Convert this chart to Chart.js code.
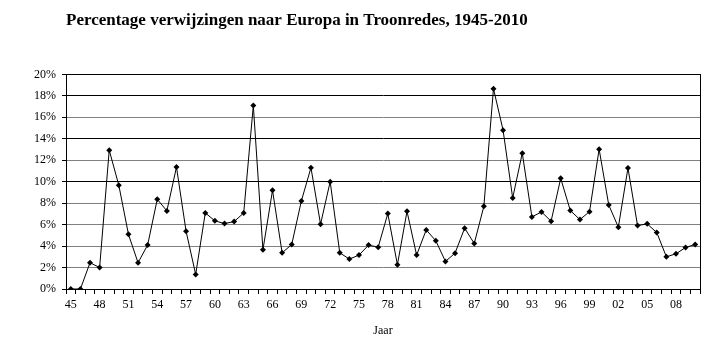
<!DOCTYPE html>
<html>
<head>
<meta charset="utf-8">
<script src="https://cdn.jsdelivr.net/npm/chart.js@4"></script>
<style>
  html, body { margin: 0; padding: 0; background: #fff; }
  #wrap { width: 709px; height: 354px; position: relative; }
</style>
</head>
<body>
<div id="wrap"><canvas id="chart"></canvas></div>
<script>
// ==== DATA ====
const years = [];
for (let y = 1945; y <= 2010; y++) years.push(String(y).slice(2));

const percentages = [
    0, 0, 2.45, 2.0, 12.94, 9.66, 5.1, 2.45, 4.1, 8.36,
    7.28, 11.36, 5.39, 1.36, 7.09, 6.35, 6.1, 6.28, 7.09, 17.09,
    3.65, 9.2, 3.37, 4.15, 8.2, 11.3, 6.04, 10.0, 3.37, 2.79,
    3.16, 4.09, 3.9, 7.03, 2.26, 7.24, 3.16, 5.51, 4.49, 2.57,
    3.34, 5.67, 4.24, 7.71, 18.67, 14.8, 8.48, 12.66, 6.72, 7.18,
    6.32, 10.31, 7.31, 6.47, 7.21, 13.03, 7.83, 5.76, 11.27, 5.91,
    6.07, 5.26, 3.0, 3.28, 3.87, 4.15
];

const yTicks = [0, 2, 4, 6, 8, 10, 12, 14, 16, 18, 20];
const darkLines = [10, 14, 18, 20];

const serif = "'Liberation Serif', 'Times New Roman', serif";

// ==== FRAME PLUGIN ====
const frame = {
    id: 'frame',
    afterDatasetsDraw(chart) {
        const a = chart.chartArea;
        const ctx = chart.ctx;
        ctx.save();
        ctx.strokeStyle = '#000';
        ctx.lineWidth = 1;
        ctx.strokeRect(Math.round(a.left) + 0.5, Math.round(a.top) + 0.5,
            Math.round(a.right - a.left), Math.round(a.bottom - a.top));
        ctx.restore();
    }
};

new Chart(document.getElementById('chart'), {
    type: 'line',
    data: {
        labels: years,
        datasets: [{
            data: percentages,
            borderColor: '#000',
            borderWidth: 1,
            backgroundColor: '#000',
            pointStyle: 'rectRot',
            pointRadius: 3,
            pointBorderWidth: 0,
            tension: 0
        }]
    },
    options: {
        responsive: true,
        maintainAspectRatio: false,
        animation: false,
        layout: { padding: { left: 0, right: 9, top: 0, bottom: 0 } },
        plugins: {
            legend: { display: false },
            tooltip: { enabled: false },
            title: {
                display: true,
                text: 'Percentage verwijzingen naar Europa in Troonredes, 1945-2010',
                align: 'start',
                fullSize: false,
                color: '#000',
                font: { family: serif, size: 17, weight: 'bold' },
                padding: { top: 10, bottom: 44 }
            }
        },
        scales: {
            x: {
                offset: true,
                border: { color: '#000' },
                grid: {
                    offset: true,
                    drawOnChartArea: false,
                    tickLength: 5,
                    tickColor: '#000'
                },
                ticks: {
                    autoSkip: false,
                    maxRotation: 0,
                    padding: 4,
                    color: '#000',
                    font: { family: serif, size: 12 },
                    callback: (v, i) => (i % 3 === 0 ? years[i] : '')
                },
                title: {
                    display: true,
                    text: 'Jaar',
                    color: '#000',
                    font: { family: serif, size: 12 },
                    padding: { top: 4, bottom: 16 }
                },
                afterFit: s => { s.height = 65; }
            },
            y: {
                min: 0,
                max: 20,
                border: { color: '#000' },
                grid: {
                    color: ctx => (darkLines.includes(ctx.tick && ctx.tick.value) ? '#000' : '#808080'),
                    tickColor: '#000',
                    tickLength: 4
                },
                afterBuildTicks: s => { s.ticks = yTicks.map(v => ({ value: v })); },
                ticks: {
                    padding: 6,
                    color: '#000',
                    font: { family: serif, size: 12 },
                    callback: v => v + '%'
                },
                afterFit: s => { s.width = 66; }
            }
        }
    },
    plugins: [frame]
});
</script>
</body>
</html>
